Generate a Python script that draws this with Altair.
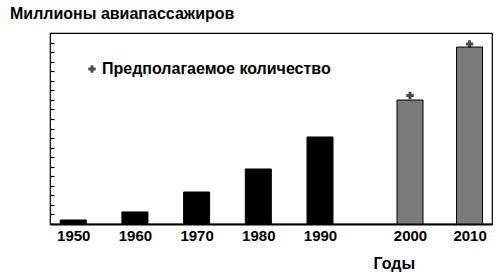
import altair as alt
import pandas as pd

years = [1950, 1960, 1970, 1980, 1990, 2000, 2010]
passengers = [42, 126, 335, 576, 911, 1298, 1853]
kind = ["fact", "fact", "fact", "fact", "fact", "est", "est"]
est_years = [2000, 2010]
est_marks = [1345, 1885]
tick_values = list(range(0, 2001, 100))
legend_label = "Предполагаемое количество"

FONT = "Liberation Sans"

bars_df = pd.DataFrame({"year": years, "value": passengers, "kind": kind})
est_df = pd.DataFrame({"year": est_years, "value": est_marks, "lab": [legend_label] * len(est_years)})

xscale = alt.Scale(domain=[1947, 1990, 2000, 2013], range=[0, 270, 360, 442])
yscale = alt.Scale(domain=[0, 2000], nice=False)

xaxis = alt.Axis(
    values=years, format="d", title="Годы", grid=False, ticks=False,
    labelFont=FONT, labelFontWeight="bold", labelFontSize=15, labelColor="black",
    labelPadding=4, domainColor="black", domainWidth=2,
    titleFont=FONT, titleFontWeight="bold", titleFontSize=16, titleColor="black",
    titleAnchor="start", titleX=323, titleY=31,
)

yaxis = alt.Axis(values=tick_values, labels=False, grid=False, title=None,
                 domain=False, tickColor="black", tickSize=4, tickWidth=1.2, offset=-4)

bars = alt.Chart(bars_df).mark_bar(size=26, stroke="black", strokeWidth=1).encode(
    x=alt.X("year:Q", scale=xscale, axis=xaxis),
    y=alt.Y("value:Q", scale=yscale, axis=yaxis),
    color=alt.Color("kind:N", scale=alt.Scale(domain=["fact", "est"], range=["#000000", "#7a7a7a"]), legend=None),
)

plus = alt.Chart(est_df).mark_point(shape="cross", filled=True, size=55, strokeWidth=0).encode(
    x=alt.X("year:Q", scale=xscale, axis=xaxis),
    y=alt.Y("value:Q", scale=yscale, axis=yaxis),
    fill=alt.Fill("lab:N", scale=alt.Scale(domain=[legend_label], range=["#000000"]),
                  legend=alt.Legend(title=None, orient="none", legendX=34, legendY=28,
                                    labelFont=FONT, labelFontWeight="bold", labelFontSize=16,
                                    labelColor="black", labelLimit=400, symbolSize=55,
                                    symbolType="cross", symbolStrokeWidth=0, labelOffset=2)),
)

chart = alt.layer(bars, plus).properties(
    width=442,
    height=191,
    padding={"left": 50, "top": 33, "right": 8, "bottom": 55},
    autosize=alt.AutoSizeParams(type="none"),
    title=alt.TitleParams(
        "Миллионы авиапассажиров", anchor="start", frame="group", dx=-40, offset=10,
        font=FONT, fontSize=16, fontWeight="bold", color="black",
    ),
).configure_view(stroke="black", strokeWidth=1.2)

chart.save("out.html", embed_options={"renderer": "svg", "actions": False})
